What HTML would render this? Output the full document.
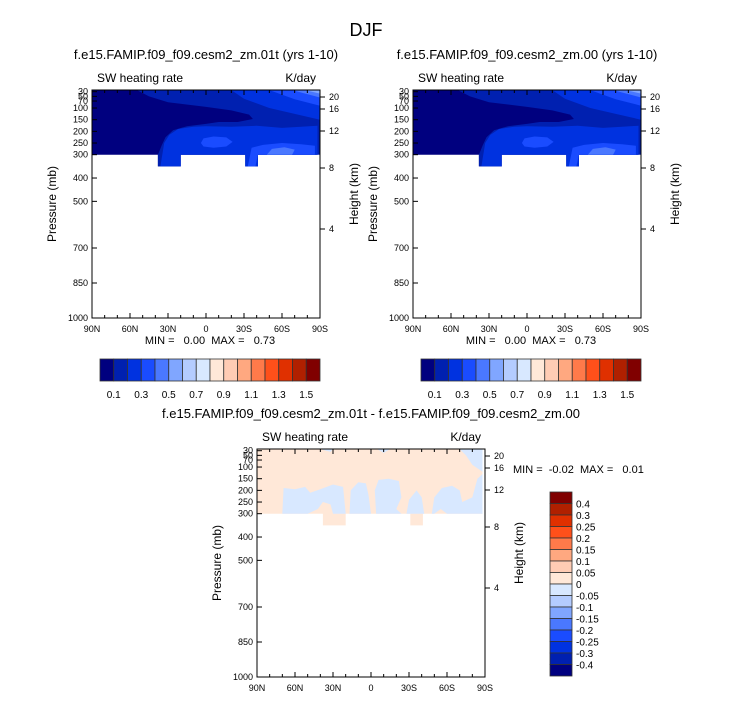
<!DOCTYPE html>
<html><head><meta charset="utf-8"><style>
body{margin:0;background:#fff}
svg{display:block;font-family:"Liberation Sans",Arial,sans-serif}
.pre{white-space:pre}
</style></head><body>
<svg id="s" width="733" height="701" viewBox="0 0 733 701" xmlns="http://www.w3.org/2000/svg">
<text x="366" y="36" font-size="18" text-anchor="middle">DJF</text>
</svg>
<script>
const colors=["#00007f","#0020b0","#0032e0","#1a4cff","#4a78ff","#80a6ff","#b4ccff","#d8e8ff","#ffe8d8","#ffccb4","#ffa880","#ff7a4a","#ff501a","#e03000","#b02000","#800000"];
const topLabels=["0.1","0.3","0.5","0.7","0.9","1.1","1.3","1.5"];
const diffLabels=["0.4","0.3","0.25","0.2","0.15","0.1","0.05","0","-0.05","-0.1","-0.15","-0.2","-0.25","-0.3","-0.4"];
const pTicks=[30,50,70,100,150,200,250,300,400,500,700,850,1000];
const hTicks=[[20,97],[16,109],[12,131],[8,168],[4,229]];
const latTicks=[90,60,30,0,-30,-60,-90];
const latNames=["90N","60N","30N","0","30S","60S","90S"];
// contour regions: [colorIndex, [[lat,p],...]]
const field1=[
 [0,[[90,23],[-88,23],[-88,300],[-31,300],[-31,350],[-41,350],[-41,300],[20,300],[20,350],[38,350],[38,300],[90,300]]],
 [1,[[54.5,23],[-90,23],[-90,300],[-41,300],[-41,350],[-31,350],[-31,300],[20,300],[20,350],[38,350],[38,300],[35,260],[32,225],[26,195],[15,178],[0,168],[-10,160],[-25,160],[-37,147],[-34,128],[-20,110],[0,95],[30,75],[45,50]]],
 [2,[[36,350],[33,250],[29,215],[22,190],[10,180],[0,178],[-20,180],[-40,176],[-60,185],[-75,180],[-88,176],[-88,300],[-41,300],[-41,350],[-31,350],[-31,300],[20,300],[20,350]]],
 [2,[[-20,23],[-90,23],[-90,150],[-70,125],[-50,100],[-30,60]]],
 [3,[[-50,23],[-90,23],[-90,90],[-70,62]]],
 [4,[[-68,23],[-90,23],[-90,55]]],
 [5,[[-78,23],[-90,23],[-90,38]]],
 [3,[[4,250],[2,230],[-6,222],[-16,226],[-21,245],[-16,265],[-6,270],[2,265]]],
 [3,[[-33,350],[-36,270],[-45,258],[-60,250],[-75,255],[-86,262],[-86,300],[-41,300],[-39,350]]],
 [4,[[-48,300],[-52,275],[-62,268],[-70,278],[-68,300]]]
];
const field3=[
 [8,[[90,23],[-88,23],[-88,300],[-31,300],[-31,350],[-41,350],[-41,300],[20,300],[20,350],[38,350],[38,300],[90,300]]],
 [7,[[70,300],[69,190],[60,195],[52,185],[48,210],[40,195],[30,175],[22,185],[20,300],[30,300],[32,260],[38,250],[42,280],[50,300]]],
 [7,[[17,300],[16,200],[10,165],[4,170],[2,220],[0,300],[-4,300],[-3,200],[-6,155],[-14,150],[-22,160],[-24,230],[-20,280],[-24,300],[-28,300],[-30,240],[-36,200],[-40,230],[-42,300],[-48,300],[-50,230],[-56,190],[-64,180],[-70,200],[-72,250],[-80,230],[-84,150],[-88,130],[-88,300],[-60,300],[-55,280],[-50,300]]],
 [7,[[-70,23],[-88,23],[-88,120],[-80,90],[-75,50]]],
 [7,[[40,23],[30,23],[32,35]]],
 [7,[[-5,23],[-15,23],[-10,40]]]
];
const svg=document.getElementById('s');
const NS="http://www.w3.org/2000/svg";
function el(tag,attrs,parent){const e=document.createElementNS(NS,tag);for(const k in attrs)e.setAttribute(k,attrs[k]);(parent||svg).appendChild(e);return e;}
function txt(x,y,s,size,anchor,parent,rot){const t=el('text',{x:x,y:y,'font-size':size,'text-anchor':anchor||'start'},parent);if(rot)t.setAttribute('transform','rotate(-90 '+x+' '+y+')');t.textContent=s;return t;}
function panel(L,T,field,title,name){
 const W=228,H=228,ptop=1000-H/0.2333;
 const g=el('g',{});
 
 
 const X=lat=>L+(90-lat)/180*W;
 const Y=p=>T+(p-ptop)*0.2333;
 field.forEach(f=>{
  const poly=el('polygon',{points:f[1].map(q=>X(q[0]).toFixed(1)+','+Y(q[1]).toFixed(1)).join(' '),fill:colors[f[0]]},g);
  
  
 });
 const fr=el('rect',{x:L,y:T,width:W,height:H,fill:'none',stroke:'#000','stroke-width':1},g);
 
 
 pTicks.forEach(p=>{el('line',{x1:L,x2:L+5,y1:Y(p),y2:Y(p),stroke:'#000'},g);
  const t=txt(L-4,Y(p)+3,String(p),9,'end',g);
  
  });
 hTicks.forEach(h=>{const y=T+(h[1]-90);el('line',{x1:L+W,x2:L+W+5,y1:y,y2:y,stroke:'#000'},g);
  const t=txt(L+W+9,y+3,String(h[0]),9,'start',g);
  
  });
 for(let lat=90;lat>=-90;lat-=10){const x=X(lat),mj=lat%30===0;
  el('line',{x1:x,x2:x,y1:T+H,y2:T+H-(mj?5:3),stroke:'#000'},g);
  el('line',{x1:x,x2:x,y1:T,y2:T+(mj?5:3),stroke:'#000'},g);}
 latTicks.forEach((lat,i)=>{const t=txt(X(lat),T+H+14,latNames[i],9,'middle',g);
  
  });
 let t=txt(L+W/2,T-31,title,13,'middle',g);
 
 
 t=txt(L+5,T-8,'SW heating rate',12,'start',g);
 
 
 t=txt(L+W-4,T-8,'K/day',12,'end',g);
 
 
 t=txt(L-36,T+H/2,'Pressure (mb)',12,'middle',g,true);
 
 
 t=txt(L+W+38,T+H/2-10,'Height (km)',12,'middle',g,true);
 
 
 return g;
}
panel(92,90,field1,'f.e15.FAMIP.f09_f09.cesm2_zm.01t (yrs 1-10)','panel-01t');
panel(413,90,field1,'f.e15.FAMIP.f09_f09.cesm2_zm.00 (yrs 1-10)','panel-00');
panel(257,449,field3,'f.e15.FAMIP.f09_f09.cesm2_zm.01t - f.e15.FAMIP.f09_f09.cesm2_zm.00','panel-diff');
// min/max
[[210,'MIN =   0.00  MAX =   0.73'],[531,'MIN =   0.00  MAX =   0.73']].forEach(m=>{
 const t=txt(m[0],344,m[1],11,'middle');t.setAttribute('class','pre');
 
 });
let mm=txt(513,473,'MIN =  -0.02  MAX =   0.01',11,'start');mm.setAttribute('class','pre');


// horizontal colorbars
[100,421].forEach((x0,k)=>{
 const g=el('g',{});
 
 
 const bw=220/colors.length;
 colors.forEach((c,i)=>el('rect',{x:x0+i*bw,y:359,width:bw,height:22,fill:c,stroke:'#333','stroke-width':0.8},g));
 topLabels.forEach((l,i)=>{const t=txt(x0+(2*i+1)*bw,398,l,10,'middle',g);
  
  });
});
// vertical colorbar
{
 const g=el('g',{});
 
 
 const bh=184/colors.length;
 colors.slice().reverse().forEach((c,i)=>el('rect',{x:550,y:492+i*bh,width:22,height:bh,fill:c,stroke:'#333','stroke-width':0.8},g));
 diffLabels.forEach((l,i)=>{const t=txt(576,492+(i+1)*bh+4,l,10,'start',g);
  
  });
}
</script>
</body></html>
